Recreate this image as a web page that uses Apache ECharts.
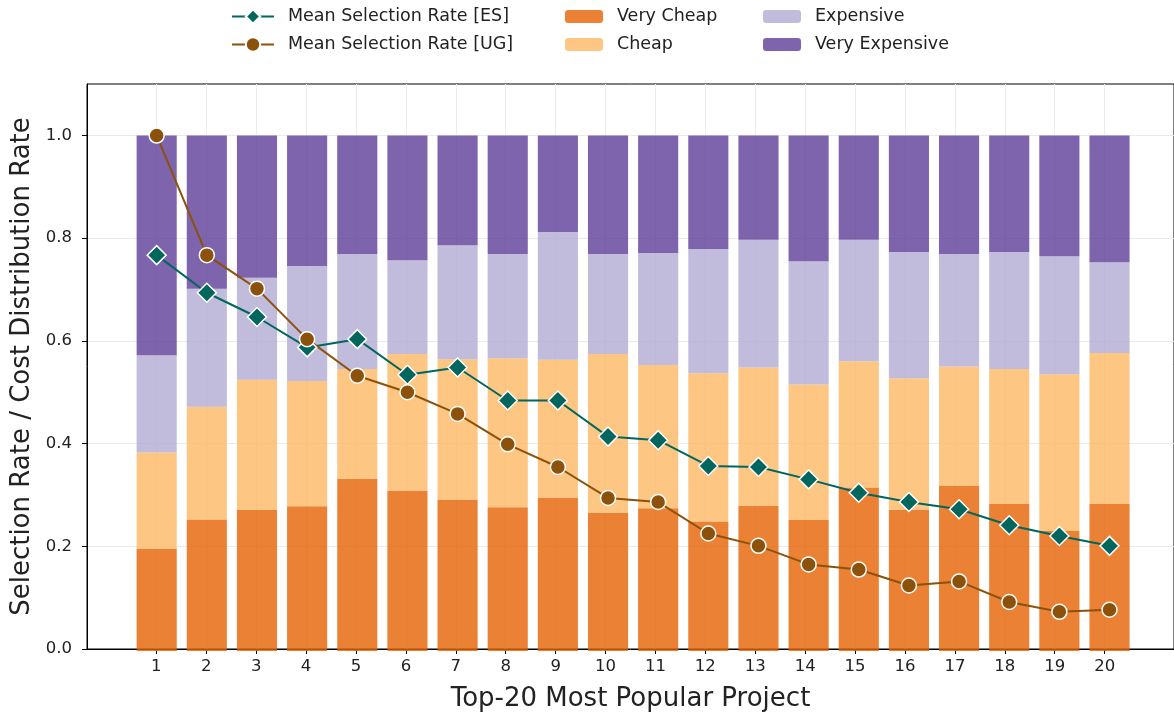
<!DOCTYPE html>
<html>
<head>
<meta charset="utf-8">
<script src="https://cdn.jsdelivr.net/npm/echarts@6/dist/echarts.min.js"></script>
<style>
html,body{margin:0;padding:0;background:#fff;}
#chart{width:1174px;height:717px;}
</style>
</head>
<body>
<div id="chart"></div>
<script>
const categories = [1,2,3,4,5,6,7,8,9,10,11,12,13,14,15,16,17,18,19,20];
const yTicks = [0,0.2,0.4,0.6,0.8,1.0];
const veryCheap = [0.198,0.255,0.274,0.281,0.334,0.311,0.293,0.279,0.297,0.268,0.277,0.251,0.282,0.254,0.317,0.274,0.321,0.285,0.233,0.285];
const cheap     = [0.187,0.219,0.252,0.243,0.213,0.265,0.273,0.289,0.268,0.308,0.278,0.288,0.268,0.263,0.245,0.255,0.231,0.262,0.304,0.293];
const expensive = [0.189,0.229,0.198,0.223,0.223,0.182,0.221,0.202,0.248,0.194,0.217,0.241,0.248,0.239,0.236,0.245,0.218,0.227,0.229,0.176];
const veryExpensive = [0.426,0.297,0.276,0.253,0.230,0.242,0.213,0.230,0.187,0.230,0.228,0.220,0.202,0.244,0.202,0.226,0.230,0.226,0.234,0.246];
const meanES = [0.768,0.695,0.648,0.589,0.605,0.536,0.550,0.486,0.486,0.416,0.409,0.359,0.357,0.333,0.307,0.289,0.275,0.244,0.223,0.204];
const meanUG = [1.000,0.768,0.703,0.605,0.534,0.502,0.460,0.401,0.357,0.297,0.289,0.228,0.204,0.168,0.158,0.127,0.135,0.095,0.076,0.080];

const FONT = 'DejaVu Sans';

function barSeries(name, data, color){
  return {
    name, type:'bar', stack:'cost', data, barWidth:'80%',
    xAxisIndex:1, yAxisIndex:1,
    itemStyle:{color, opacity:0.8}, emphasis:{disabled:true}, z:2
  };
}
function lineSeries(name, data, color, symbol, size){
  return {
    name, type:'line', data, symbol, symbolSize:size,
    xAxisIndex:1, yAxisIndex:1,
    lineStyle:{color, width:2}, itemStyle:{color, borderColor:'#fff', borderWidth:1.5},
    z:5, emphasis:{disabled:true}
  };
}

const chart = echarts.init(document.getElementById('chart'), null, {renderer:'canvas'});
const legendText = {fontFamily:FONT, fontSize:17.5, color:'#222', padding:[0,0,0,9]};
const legendBase = {orient:'vertical', top:7.5, padding:0, itemGap:10, textStyle:legendText};
chart.setOption({
  animation:false,
  backgroundColor:'#fff',
  textStyle:{fontFamily:FONT},
  grid:[
    {left:87, top:84, width:1092, bottom:66, show:true, borderColor:'#000', borderWidth:1, backgroundColor:'transparent'},
    {left:131.6, top:84, width:1003, bottom:66}
  ],
  legend:[
    Object.assign({}, legendBase, {left:231, itemWidth:42, itemHeight:18,
     data:['Mean Selection Rate [ES]','Mean Selection Rate [UG]']}),
    Object.assign({}, legendBase, {left:565, itemWidth:38, itemHeight:13,
     data:['Very Cheap','Cheap']}),
    Object.assign({}, legendBase, {left:763, itemWidth:38, itemHeight:13,
     data:['Expensive','Very Expensive']})
  ],
  xAxis:[{
    type:'value', gridIndex:0, min:-0.39, max:21.39,
    name:'Top-20 Most Popular Project', nameLocation:'middle', nameGap:37,
    nameTextStyle:{fontFamily:FONT, fontSize:26, color:'#222'},
    axisLine:{show:true, onZero:false, lineStyle:{color:'#000', width:1}},
    axisTick:{show:true, length:5, customValues:categories, lineStyle:{color:'#000'}},
    axisLabel:{customValues:categories, fontFamily:FONT, fontSize:16.5, color:'#222', margin:9},
    splitLine:{show:true, lineStyle:{color:'#ebebeb', width:1}}
  },{
    type:'category', gridIndex:1, data:categories, boundaryGap:true, show:false
  }],
  yAxis:[{
    type:'value', gridIndex:0, min:0, max:1.1,
    name:'Selection Rate / Cost Distribution Rate', nameLocation:'middle', nameGap:50,
    nameTextStyle:{fontFamily:FONT, fontSize:26, color:'#222'},
    axisLine:{show:true, onZero:false, lineStyle:{color:'#000', width:1}},
    axisTick:{show:true, length:5, customValues:yTicks, lineStyle:{color:'#000'}},
    axisLabel:{customValues:yTicks, fontFamily:FONT, fontSize:16.5, color:'#222', margin:15,
      formatter:v=>v.toFixed(1)},
    splitLine:{show:true, lineStyle:{color:'#ebebeb', width:1}}
  },{
    type:'value', gridIndex:1, min:0, max:1.1, show:false, splitLine:{show:false}
  }],
  series:[
    lineSeries('Mean Selection Rate [ES]', meanES, '#01665e', 'diamond', 19),
    lineSeries('Mean Selection Rate [UG]', meanUG, '#8c510a', 'circle', 15),
    barSeries('Very Cheap', veryCheap, '#e66101'),
    barSeries('Cheap', cheap, '#fdb863'),
    barSeries('Expensive', expensive, '#b2abd2'),
    barSeries('Very Expensive', veryExpensive, '#5e3c99')
  ]
});
</script>
</body>
</html>
